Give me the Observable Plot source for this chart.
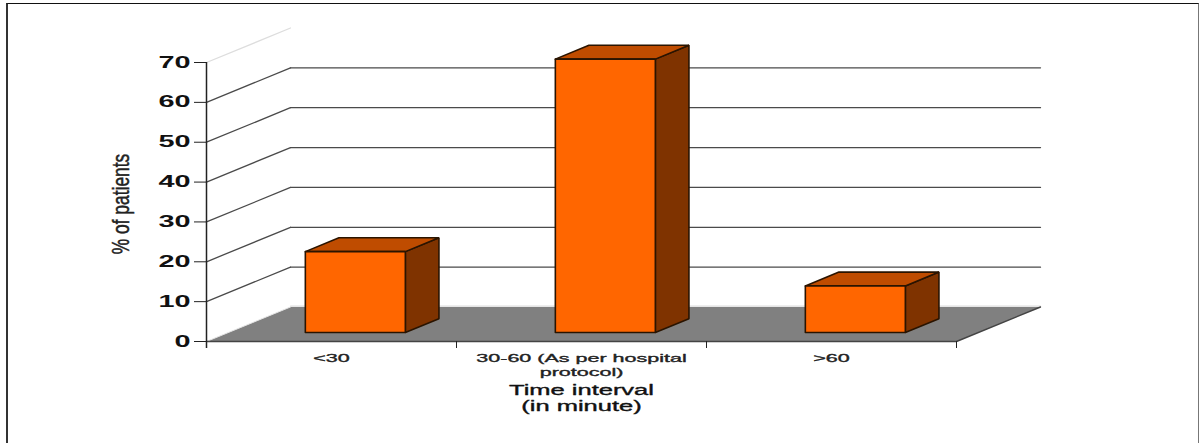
<!DOCTYPE html>
<html>
<head>
<meta charset="utf-8">
<script src="https://cdn.jsdelivr.net/npm/d3@7"></script>
<script src="https://cdn.jsdelivr.net/npm/@observablehq/plot@0.6"></script>
<style>
  html, body { margin: 0; padding: 0; background: #fff; }
  #page { position: relative; width: 1201px; height: 443px; overflow: hidden; }
  #page svg { position: absolute; left: 0; top: 0; }
  #border {
    position: absolute; left: 6px; top: 3px; width: 1190px; height: 460px;
    border-top: 1.5px solid #111; border-left: 2px solid #333; border-right: 1.5px solid #777;
  }
</style>
</head>
<body>
<div id="page"><div id="border"></div></div>
<script>
// Share of patients per time interval
const categories = ["<30", "30-60 (As per hospital", ">60"];
const wrappedCategoryLine = "protocol)";
const wrappedCategoryBand = 1;
const percentages = [20.3, 68.6, 11.7];
const yTicks = [0, 10, 20, 30, 40, 50, 60, 70];
const xTicks = [0, 1, 2, 3];
const xTitleLines = ["Time interval", "(in minute)"];
const yTitle = "% of patients";

// Oblique projection: one unit of depth shifts right (in bands) and up (in percent)
const depthX = 0.336;
const depthY = 8.66;
const project = (band, value, depth) => ({x: band + depth * depthX, y: value + depth * depthY});

const barStart = 0.308, barWidth = 0.4;
const barDepthFront = 0.26, barDepthBack = 0.66;

// Builds the three visible faces of each bar
const faces = categories.flatMap((category, i) => {
  const x0 = i + barStart, x1 = x0 + barWidth, v = percentages[i];
  const polygon = (face, corners) => corners.map(([b, h, d]) => ({category, face, ...project(b, h, d)}));
  const f = barDepthFront, k = barDepthBack;
  return [
    polygon("side", [[x1, 0, f], [x1, 0, k], [x1, v, k], [x1, v, f], [x1, 0, f]]),
    polygon("top", [[x0, v, f], [x1, v, f], [x1, v, k], [x0, v, k], [x0, v, f]]),
    polygon("front", [[x0, 0, f], [x1, 0, f], [x1, v, f], [x0, v, f], [x0, 0, f]])
  ];
});
const faceColor = {front: "#ff6600", top: "#bf4c00", side: "#7f3300"};

const lastBand = categories.length;
const floor = [[0, 0, 0], [lastBand, 0, 0], [lastBand, 0, 1], [0, 0, 1]].map(([b, h, d]) => project(b, h, d));
const floorFront = [floor[0], floor[1], floor[2]];
const floorBack = [floor[3], floor[2]];
const floorLeft = [floor[0], floor[3]];

// Guide lines: across the side wall, then along the back wall
const wallLines = yTicks.filter((t) => t > 0).map((t) => [project(0, t, 0), project(0, t, 1)]);
const backLines = yTicks.filter((t) => t > 0 && t < 70).map((t) => [project(0, t, 1), project(lastBand, t, 1)]);

const gridColor = "#4a4a4a";
const chart = Plot.plot({
  width: 1201,
  height: 443,
  marginLeft: 206,
  marginRight: 161,
  marginTop: 27.5,
  marginBottom: 102,
  x: {domain: [0, lastBand + depthX]},
  y: {domain: [0, 70 + depthY]},
  style: {background: "transparent", fontFamily: "'Liberation Sans', Arial, sans-serif"},
  marks: [
    wallLines.map((l, i) => Plot.line(l, {x: "x", y: "y", stroke: i === wallLines.length - 1 ? "#ddd" : gridColor, strokeWidth: 1.3})),
    backLines.map((l) => Plot.line(l, {x: "x", y: "y", stroke: gridColor, strokeWidth: 1.3})),
    Plot.line([...floor, floor[0]], {x: "x", y: "y", fill: "#808080", stroke: "none"}),
    Plot.line(floorBack, {x: "x", y: "y", stroke: "#ddd", strokeWidth: 1.2, dy: -0.8}),
    Plot.line(floorLeft, {x: "x", y: "y", stroke: "#e4e4e4", strokeWidth: 1}),
    Plot.line(floorFront, {x: "x", y: "y", stroke: "#444", strokeWidth: 1.4}),
    faces.map((f) => Plot.line(f, {x: "x", y: "y", fill: faceColor[f[0].face], stroke: "#2a1400", strokeWidth: 1.6, strokeLinejoin: "miter"})),
    Plot.ruleX([0], {y1: -1.75, y2: 70, stroke: "#222", strokeWidth: 1.5}),
    Plot.axisY({ticks: yTicks, tickSize: 12, tickPadding: 4, label: null, fontSize: 16, fontWeight: "bold", fill: "#111", stroke: "#222"}),
    Plot.axisX({ticks: xTicks, tickSize: 7, tickPadding: 0, label: null, tickFormat: () => "", stroke: "#222"}),
    Plot.text(categories, {
      x: (d, i) => i + 0.5, y: 0, dy: 17, fontSize: 11.5,
      fill: "#222", stroke: "#222", strokeWidth: 0.35
    }),
    Plot.text([wrappedCategoryLine], {
      x: wrappedCategoryBand + 0.5, y: 0, dy: 31, fontSize: 11.5,
      fill: "#222", stroke: "#222", strokeWidth: 0.35
    }),
    xTitleLines.map((line, i) => Plot.text([line], {
      x: 1.5, y: 0, dy: 49 + i * 16, fontSize: 14,
      fill: "#111", stroke: "#111", strokeWidth: 0.35
    })),
    Plot.text([yTitle], {
      y: 34.5, frameAnchor: "left", dx: -85, rotate: -90, fontSize: 24, textAnchor: "middle",
      fill: "#222", stroke: "#222", strokeWidth: 0.5
    })
  ]
});

document.getElementById("page").appendChild(chart);

// Widens or narrows the glyphs of the given labels by a fixed factor
function stretch(labels, factor) {
  const wanted = new Set(labels.map(String));
  chart.querySelectorAll("text").forEach((el) => {
    if (!wanted.has(el.textContent)) return;
    el.setAttribute("textLength", el.getComputedTextLength() * factor);
    el.setAttribute("lengthAdjust", "spacingAndGlyphs");
  });
}
stretch(yTicks, 1.8);
stretch([...categories, wrappedCategoryLine], 1.87);
stretch(xTitleLines, 1.82);
stretch([yTitle], 0.725);
</script>
</body>
</html>
